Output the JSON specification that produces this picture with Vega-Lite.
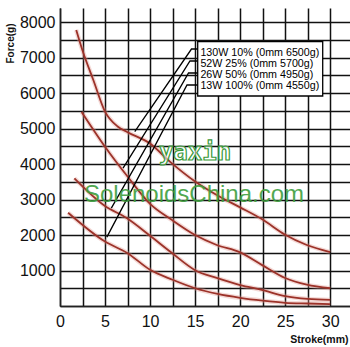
{
  "$schema": "https://vega.github.io/schema/vega-lite/v6.json",
  "width": 290,
  "height": 298,
  "autosize": {"type": "none"},
  "padding": {"left": 60, "top": 8, "right": 0, "bottom": 41},
  "background": "white",
  "config": {
    "view": {"stroke": null},
    "axis": {"grid": true, "zindex": 0, "gridColor": "#111111", "gridWidth": 1.5, "gridOpacity": 1,
      "domain": true, "domainColor": "#222222", "domainWidth": 1.5, "ticks": false,
      "labelFont": "Liberation Sans", "labelFontSize": 16, "labelColor": "#111111",
      "labelOverlap": false, "labelFlush": false,
      "titleFont": "Liberation Sans", "titleFontWeight": "bold", "titleColor": "#111111"}
  },
  "layer": [
    {
      "data": {"values": [
        {"series": "130W", "x": 1.8, "y": 7780}, {"series": "130W", "x": 2.5, "y": 7200}, {"series": "130W", "x": 3.7, "y": 6370}, {"series": "130W", "x": 5, "y": 5480}, {"series": "130W", "x": 6.4, "y": 5060}, {"series": "130W", "x": 7.5, "y": 4900}, {"series": "130W", "x": 10, "y": 4580}, {"series": "130W", "x": 12.2, "y": 4070}, {"series": "130W", "x": 15, "y": 3510}, {"series": "130W", "x": 17.4, "y": 3130}, {"series": "130W", "x": 20, "y": 2780}, {"series": "130W", "x": 22.4, "y": 2450}, {"series": "130W", "x": 25, "y": 2010}, {"series": "130W", "x": 27.4, "y": 1720}, {"series": "130W", "x": 30, "y": 1520},
        {"series": "52W", "x": 2.4, "y": 5470}, {"series": "52W", "x": 5, "y": 4490}, {"series": "52W", "x": 7.5, "y": 3650}, {"series": "52W", "x": 10, "y": 2880}, {"series": "52W", "x": 12.4, "y": 2430}, {"series": "52W", "x": 15, "y": 2000}, {"series": "52W", "x": 17.4, "y": 1720}, {"series": "52W", "x": 20, "y": 1510}, {"series": "52W", "x": 22.4, "y": 1160}, {"series": "52W", "x": 25, "y": 790}, {"series": "52W", "x": 27.4, "y": 600}, {"series": "52W", "x": 30, "y": 500},
        {"series": "26W", "x": 1.6, "y": 3600}, {"series": "26W", "x": 5, "y": 2820}, {"series": "26W", "x": 7.4, "y": 2480}, {"series": "26W", "x": 10, "y": 1980}, {"series": "26W", "x": 12.4, "y": 1500}, {"series": "26W", "x": 15, "y": 1010}, {"series": "26W", "x": 17.4, "y": 790}, {"series": "26W", "x": 20, "y": 590}, {"series": "26W", "x": 22.4, "y": 456}, {"series": "26W", "x": 25, "y": 280}, {"series": "26W", "x": 27.5, "y": 200}, {"series": "26W", "x": 30, "y": 170},
        {"series": "13W", "x": 0.9, "y": 2630}, {"series": "13W", "x": 5, "y": 1817}, {"series": "13W", "x": 7.5, "y": 1490}, {"series": "13W", "x": 10, "y": 1020}, {"series": "13W", "x": 12.5, "y": 740}, {"series": "13W", "x": 15, "y": 500}, {"series": "13W", "x": 17.5, "y": 340}, {"series": "13W", "x": 20, "y": 230}, {"series": "13W", "x": 22.5, "y": 150}, {"series": "13W", "x": 25, "y": 90}, {"series": "13W", "x": 27.5, "y": 70}, {"series": "13W", "x": 30, "y": 55}
      ]},
      "encoding": {
        "x": {"field": "x", "type": "quantitative", "scale": {"domain": [0, 32.2], "nice": false, "zero": false},
          "axis": {"values": [0, 2.5, 5, 7.5, 10, 12.5, 15, 17.5, 20, 22.5, 25, 27.5, 30],
            "labelExpr": "datum.value % 5 === 0 ? format(datum.value, 'd') : ''", "labelPadding": 7, "zindex": 0,
            "title": "Stroke(mm)", "titleFontSize": 10.5, "titleX": 288, "titleY": 36, "titleAlign": "right", "titleBaseline": "alphabetic"}},
        "y": {"field": "y", "type": "quantitative", "scale": {"domain": [0, 8400], "nice": false},
          "axis": {"values": [0, 500, 1000, 1500, 2000, 2500, 3000, 3500, 4000, 4500, 5000, 5500, 6000, 6500, 7000, 7500, 8000],
            "labelExpr": "datum.value % 1000 === 0 && datum.value > 0 ? format(datum.value, 'd') : ''", "labelPadding": 5, "zindex": 0,
            "title": "Force(g)", "titleFontSize": 10, "titleAngle": -90, "titleX": -50, "titleY": 15, "titleAlign": "right", "titleBaseline": "middle"}},
        "detail": {"field": "series", "type": "nominal"}
      },
      "layer": [
        {"mark": {"type": "line", "interpolate": "monotone", "color": "#e0958c", "strokeWidth": 4.5, "opacity": 0.35}},
        {"mark": {"type": "line", "interpolate": "monotone", "color": "#9c3229", "strokeWidth": 1.8}}
      ]
    },
    {
      "data": {"values": [
        {"series": "130W", "i": 0, "x": 8.3, "y": 4915}, {"series": "130W", "i": 1, "x": 14.6, "y": 7244}, {"series": "130W", "i": 2, "x": 15.29, "y": 7244},
        {"series": "52W", "i": 0, "x": 7.0, "y": 3885}, {"series": "52W", "i": 1, "x": 14.43, "y": 6906}, {"series": "52W", "i": 2, "x": 15.29, "y": 6906},
        {"series": "26W", "i": 0, "x": 5.7, "y": 2760}, {"series": "26W", "i": 1, "x": 14.27, "y": 6568}, {"series": "26W", "i": 2, "x": 15.29, "y": 6568},
        {"series": "13W", "i": 0, "x": 5.2, "y": 1940}, {"series": "13W", "i": 1, "x": 14.1, "y": 6230}, {"series": "13W", "i": 2, "x": 15.29, "y": 6230}
      ]},
      "mark": {"type": "line", "color": "#000000", "strokeWidth": 1.3},
      "encoding": {
        "x": {"field": "x", "type": "quantitative",
          "axis": {"values": [0, 2.5, 5, 7.5, 10, 12.5, 15, 17.5, 20, 22.5, 25, 27.5, 30],
            "labelExpr": "datum.value % 5 === 0 ? format(datum.value, 'd') : ''", "labelPadding": 7, "zindex": 0,
            "title": "Stroke(mm)", "titleFontSize": 10.5, "titleX": 288, "titleY": 36, "titleAlign": "right", "titleBaseline": "alphabetic"}},
        "y": {"field": "y", "type": "quantitative",
          "axis": {"values": [0, 500, 1000, 1500, 2000, 2500, 3000, 3500, 4000, 4500, 5000, 5500, 6000, 6500, 7000, 7500, 8000],
            "labelExpr": "datum.value % 1000 === 0 && datum.value > 0 ? format(datum.value, 'd') : ''", "labelPadding": 5, "zindex": 0,
            "title": "Force(g)", "titleFontSize": 10, "titleAngle": -90, "titleX": -50, "titleY": 15, "titleAlign": "right", "titleBaseline": "middle"}},
        "order": {"field": "i", "type": "quantitative"},
        "detail": {"field": "series", "type": "nominal"}
      }
    },
    {
      "data": {"values": [{}]},
      "mark": {"type": "rect", "fill": "#ffffff", "stroke": "#000000", "strokeWidth": 1.3},
      "encoding": {
        "x": {"datum": 15.29, "type": "quantitative",
          "axis": {"values": [0, 2.5, 5, 7.5, 10, 12.5, 15, 17.5, 20, 22.5, 25, 27.5, 30],
            "labelExpr": "datum.value % 5 === 0 ? format(datum.value, 'd') : ''", "labelPadding": 7, "zindex": 0,
            "title": "Stroke(mm)", "titleFontSize": 10.5, "titleX": 288, "titleY": 36, "titleAlign": "right", "titleBaseline": "alphabetic"}},
        "x2": {"datum": 29.17},
        "y": {"datum": 7450, "type": "quantitative",
          "axis": {"values": [0, 500, 1000, 1500, 2000, 2500, 3000, 3500, 4000, 4500, 5000, 5500, 6000, 6500, 7000, 7500, 8000],
            "labelExpr": "datum.value % 1000 === 0 && datum.value > 0 ? format(datum.value, 'd') : ''", "labelPadding": 5, "zindex": 0,
            "title": "Force(g)", "titleFontSize": 10, "titleAngle": -90, "titleX": -50, "titleY": 15, "titleAlign": "right", "titleBaseline": "middle"}},
        "y2": {"datum": 5920}
      }
    },
    {
      "data": {"values": [{}]},
      "mark": {"type": "text", "text": ["130W 10% (0mm 6500g)", "52W 25% (0mm 5700g)", "26W 50% (0mm 4950g)", "13W 100% (0mm 4550g)"],
        "font": "Liberation Sans", "fontSize": 10.7, "lineHeight": 11.2, "align": "left", "baseline": "middle", "color": "#000000"},
      "encoding": {
        "x": {"datum": 15.59, "type": "quantitative",
          "axis": {"values": [0, 2.5, 5, 7.5, 10, 12.5, 15, 17.5, 20, 22.5, 25, 27.5, 30],
            "labelExpr": "datum.value % 5 === 0 ? format(datum.value, 'd') : ''", "labelPadding": 7, "zindex": 0,
            "title": "Stroke(mm)", "titleFontSize": 10.5, "titleX": 288, "titleY": 36, "titleAlign": "right", "titleBaseline": "alphabetic"}},
        "y": {"datum": 7140, "type": "quantitative",
          "axis": {"values": [0, 500, 1000, 1500, 2000, 2500, 3000, 3500, 4000, 4500, 5000, 5500, 6000, 6500, 7000, 7500, 8000],
            "labelExpr": "datum.value % 1000 === 0 && datum.value > 0 ? format(datum.value, 'd') : ''", "labelPadding": 5, "zindex": 0,
            "title": "Force(g)", "titleFontSize": 10, "titleAngle": -90, "titleX": -50, "titleY": 15, "titleAlign": "right", "titleBaseline": "middle"}}
      }
    },
    {
      "data": {"values": [{}]},
      "mark": {"type": "text", "text": "yaxin", "font": "DejaVu Sans Mono", "fontWeight": "bold", "fontSize": 24,
        "align": "center", "baseline": "middle", "fill": "#ffffff", "fillOpacity": 0.6, "stroke": "#3a9a3a", "strokeWidth": 1.2},
      "encoding": {
        "x": {"datum": 14.99, "type": "quantitative",
          "axis": {"values": [0, 2.5, 5, 7.5, 10, 12.5, 15, 17.5, 20, 22.5, 25, 27.5, 30],
            "labelExpr": "datum.value % 5 === 0 ? format(datum.value, 'd') : ''", "labelPadding": 7, "zindex": 0,
            "title": "Stroke(mm)", "titleFontSize": 10.5, "titleX": 288, "titleY": 36, "titleAlign": "right", "titleBaseline": "alphabetic"}},
        "y": {"datum": 4313, "type": "quantitative",
          "axis": {"values": [0, 500, 1000, 1500, 2000, 2500, 3000, 3500, 4000, 4500, 5000, 5500, 6000, 6500, 7000, 7500, 8000],
            "labelExpr": "datum.value % 1000 === 0 && datum.value > 0 ? format(datum.value, 'd') : ''", "labelPadding": 5, "zindex": 0,
            "title": "Force(g)", "titleFontSize": 10, "titleAngle": -90, "titleX": -50, "titleY": 15, "titleAlign": "right", "titleBaseline": "middle"}}
      }
    },
    {
      "data": {"values": [{}]},
      "mark": {"type": "text", "text": "SolenoidsChina.com", "font": "Liberation Sans", "fontSize": 24,
        "align": "center", "baseline": "alphabetic", "color": "#3f9f3f", "opacity": 0.9},
      "encoding": {
        "x": {"datum": 14.88, "type": "quantitative",
          "axis": {"values": [0, 2.5, 5, 7.5, 10, 12.5, 15, 17.5, 20, 22.5, 25, 27.5, 30],
            "labelExpr": "datum.value % 5 === 0 ? format(datum.value, 'd') : ''", "labelPadding": 7, "zindex": 0,
            "title": "Stroke(mm)", "titleFontSize": 10.5, "titleX": 288, "titleY": 36, "titleAlign": "right", "titleBaseline": "alphabetic"}},
        "y": {"datum": 2940, "type": "quantitative",
          "axis": {"values": [0, 500, 1000, 1500, 2000, 2500, 3000, 3500, 4000, 4500, 5000, 5500, 6000, 6500, 7000, 7500, 8000],
            "labelExpr": "datum.value % 1000 === 0 && datum.value > 0 ? format(datum.value, 'd') : ''", "labelPadding": 5, "zindex": 0,
            "title": "Force(g)", "titleFontSize": 10, "titleAngle": -90, "titleX": -50, "titleY": 15, "titleAlign": "right", "titleBaseline": "middle"}}
      }
    }
  ]
}
